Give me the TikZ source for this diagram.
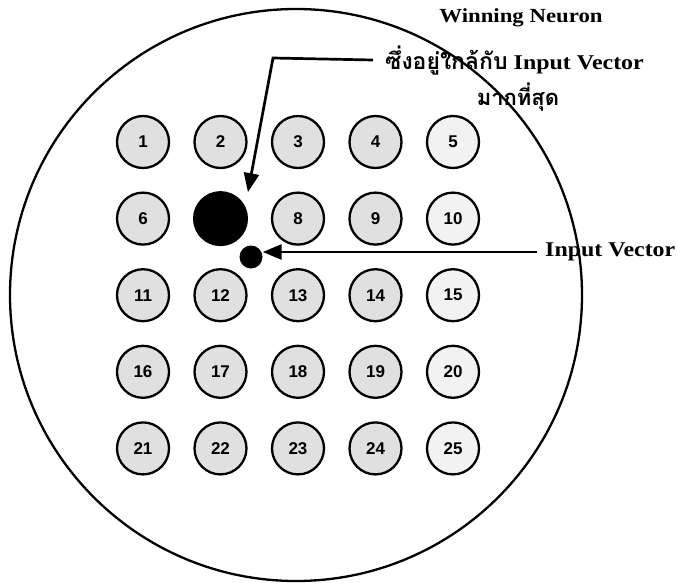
\documentclass[tikz,border=0pt]{standalone}
\usepackage{fontspec}
\setmainfont{Liberation Serif}
\newfontfamily\labfont[FakeStretch=1.14]{Liberation Serif}
\newfontfamily\thaifont[Script=Thai]{Loma}
\newfontfamily\numfont{Liberation Sans}
\usetikzlibrary{arrows.meta,calc}
\begin{document}
\begin{tikzpicture}[x=1pt,y=-1pt,
  neuron/.style={circle,draw,line width=2.3pt,minimum size=52pt,inner sep=0pt,
    fill=black!12,font=\numfont\bfseries\fontsize{17}{17}\selectfont},
  lightneuron/.style={neuron,fill=black!5},
  winner/.style={circle,draw,fill=black,line width=1pt,minimum size=54pt,inner sep=0pt},
  dot/.style={circle,fill=black,minimum size=23pt,inner sep=0pt},
  field/.style={circle,draw,line width=2.3pt,minimum size=572pt,inner sep=0pt},
  ptr/.style={line width=2.7pt,-{Triangle[length=19pt,width=15pt]}},
  lab/.style={inner sep=0pt,font=\labfont\bfseries\fontsize{21}{24}\selectfont},
]
\useasboundingbox (0,0) rectangle (678,582);
\node[field] (fieldc) at (296,295) {};
\foreach \r in {0,...,4}{
  \foreach \c in {0,...,4}{
    \pgfmathtruncatemacro\n{\r*5+\c+1}
    \ifnum\n=7
      \node[winner] (n\n) at ({143+77.5*\c},{142+76.6*\r}) {};
    \else
      \ifnum\c=4
        \node[lightneuron] (n\n) at ({143+77.5*\c},{142+76.6*\r}) {\n};
      \else
        \node[neuron] (n\n) at ({143+77.5*\c},{142+76.6*\r}) {\n};
      \fi
    \fi
  }
}
\node[dot] (inp) at (251,257) {};
% labels
\node[lab,font=\labfont\bfseries\fontsize{20}{24}\selectfont] (win) at (521,18) {Winning Neuron};
\node[lab,anchor=west] (thai) at (385,60) {{\thaifont\bfseries\fontsize{23}{24}\selectfont ซึ่งอยู่ใกล้กับ} Input Vector};
\node[lab] (most) at (518,97) {\thaifont\bfseries\fontsize{22}{24}\selectfont มากที่สุด};
\node[lab,anchor=west] (ivlab) at (545,252) {Input Vector};
% connectors
\coordinate (corner) at (273,58);
\draw[ptr] ([xshift=-12pt]thai.west) -- (corner) -- ($(n7.north east)+(8,-7)$);
\draw[ptr] ([xshift=-8pt]ivlab.west) -- (inp.east |- ivlab.west);
\end{tikzpicture}
\end{document}
